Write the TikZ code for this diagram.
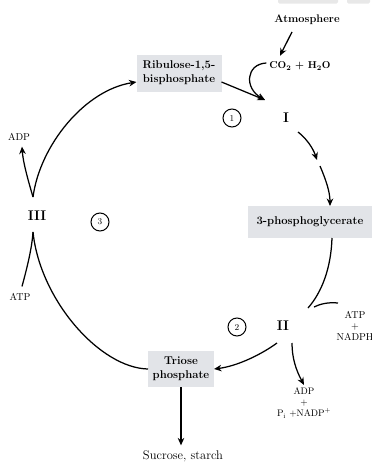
\documentclass[tikz,border=0pt]{standalone}
\usetikzlibrary{arrows.meta,calc}
\definecolor{boxgray}{RGB}{226,228,232}
\begin{document}
\begin{tikzpicture}[x=1pt,y=-1pt,
  every node/.style={inner sep=0pt, outer sep=0pt},
  box/.style={fill=boxgray, align=center, font=\fontsize{11.3}{13.8}\selectfont\bfseries},
  lbl/.style={align=center, font=\fontsize{10}{11}\selectfont},
  roman/.style={font=\fontsize{14}{15}\selectfont\bfseries},
  num/.style={draw, circle, line width=1pt, minimum size=18pt, inner sep=0pt, font=\fontsize{9}{10}\selectfont},
  arr/.style={line width=1.25pt, -{Stealth[length=7.5pt,width=6.5pt]}},
  ln/.style={line width=1.25pt},
]
\useasboundingbox (0,0) rectangle (372,464);
\fill[gray!18, rounded corners=1.5pt] (278,-3) rectangle (338,3.5);
\fill[gray!18, rounded corners=1.5pt] (347,-3) rectangle (370,3.5);

% nodes
\node[lbl, font=\fontsize{11}{12}\selectfont\bfseries] (atm) at (307,20) {Atmosphere};
\node[lbl, font=\fontsize{10}{11}\selectfont\bfseries] (co2) at (300,66) {CO\textsubscript{2} + H\textsubscript{2}O};
\node[box, minimum width=85pt, minimum height=37pt] (rubp) at (179,73) {Ribulose-1,5-\\bisphosphate};
\node[roman] (I) at (286,118) {I};
\node[num] (c1) at (232,118) {1};
\node[box, minimum width=124pt, minimum height=32pt] (pga) at (310,222) {3-phosphoglycerate};
\node[roman] (II) at (283,326) {II};
\node[num] (c2) at (237,327) {2};
\node[lbl] (atpn) at (355,326) {ATP\\+\\NADPH};
\node[lbl, font=\fontsize{9.5}{11}\selectfont] (adp) at (304,403) {ADP\\+\\P\textsubscript{i} +NADP\textsuperscript{+}};
\node[box, minimum width=66pt, minimum height=36pt] (triose) at (181,369) {Triose\\phosphate};
\node[lbl, font=\fontsize{12.5}{13}\selectfont] (sucrose) at (183,456) {Sucrose, starch};
\node[roman] (III) at (37,216) {III};
\node[num] (c3) at (100,222) {3};
\node[lbl] (adpL) at (19,137) {ADP};
\node[lbl] (atpL) at (20,297) {ATP};

% junction points
\coordinate (entry) at (265,100);
\coordinate (m1) at (317,160);
\coordinate (m2) at (320,166);
\coordinate (m3) at (308,308);
\coordinate (atpin) at (338,303);
\coordinate (m4) at (314,307);
\coordinate (v1) at (33,197);
\coordinate (v2) at (33,232);

% connectors
\draw[arr] ($(atm.south)+(-15,7)$) -- ($(co2.north)+(-20,-6)$);
\draw[arr] ($(co2.west)+(-3,-3)$) .. controls (246,64) and (244,88) .. (entry);
\draw[arr] ($(rubp.east)+(0,9)$) -- (entry);
\draw[arr] ($(I.center)+(12,14)$) .. controls (306,138) and (313,148) .. (m1);
\draw[arr] (m2) .. controls (326,180) and (330,192) .. ($(pga.north)+(20,0)$);
\draw[ln] ($(pga.south)+(22,0)$) .. controls (331,268) and (322,292) .. (m3);
\draw[ln] (atpin) .. controls (328,302) and (320,304) .. (m4);
\draw[arr] ($(II.center)+(-6,17)$) .. controls (262,354) and (238,366) .. (triose.east);
\draw[arr] ($(II.center)+(9,17)$) .. controls (292,358) and (296,370) .. ($(adp.north)+(0,-3)$);
\draw[arr] (triose.south) -- ($(sucrose.north)+(-2,-5)$);
\draw[arr] (v1) .. controls (40,145) and (85,90) .. ($(rubp.west)+(0,9)$);
\draw[arr] (v1) .. controls (28,180) and (23,162) .. ($(adpL.south)+(3,6)$);
\draw[ln] (v2) .. controls (40,300) and (100,368) .. (triose.west);
\draw[ln] ($(atpL.north)+(2,-7)$) .. controls (27,268) and (32,248) .. (v2);
\end{tikzpicture}
\end{document}
